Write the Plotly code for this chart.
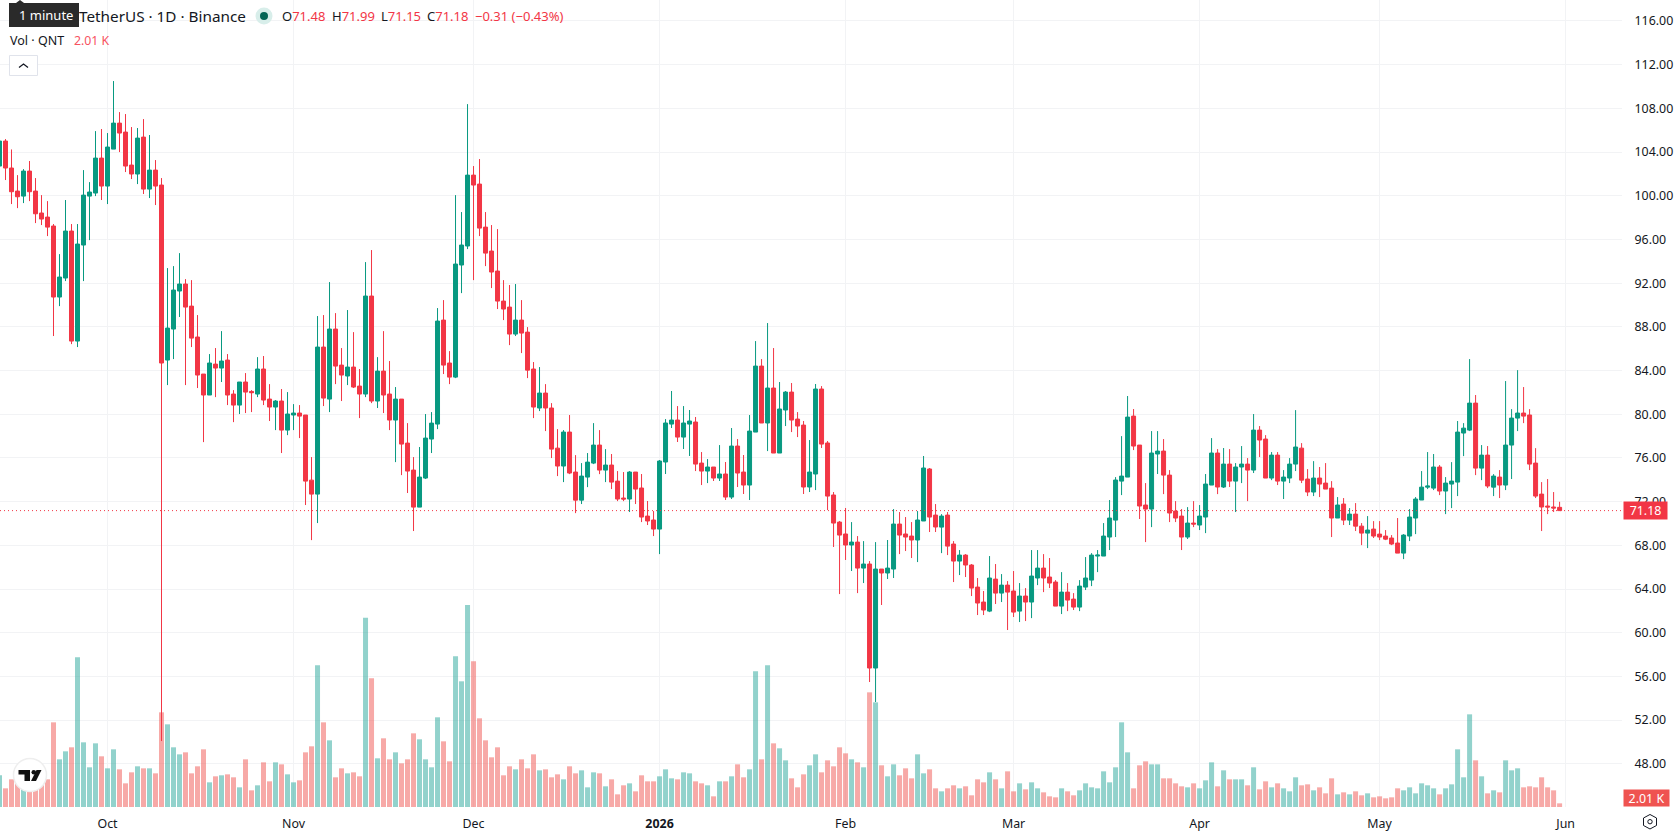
import pandas as pd
import plotly.graph_objects as go

# Daily QNT/USDT candles, 13 Sep 2025 to 31 May 2026
start_date = "2025-09-13"

opens = [
    102.72,105.01,102.54,100.43,99.97,102.26,100.43,98.42,98.05,97.23,
    90.73,92.47,96.77,86.70,95.49,99.97,100.25,103.45,100.89,104.27,
    106.65,105.83,102.81,101.99,105.37,100.61,102.35,100.98,84.96,87.80,
    91.28,91.92,89.90,87.07,83.68,81.76,84.59,84.23,84.96,81.85,
    80.84,82.95,82.09,81.85,84.14,81.39,80.66,81.21,78.55,79.93,
    80.11,79.93,73.97,72.69,86.15,81.39,87.80,84.50,83.50,84.32,
    82.58,81.85,90.82,81.21,83.95,81.85,79.47,81.39,77.36,74.89,
    71.50,74.16,77.73,79.10,88.62,84.69,83.40,93.66,95.40,101.89,
    101.07,97.13,94.94,93.11,90.36,89.81,87.34,88.62,87.52,84.14,
    80.57,81.94,80.57,76.90,75.26,78.37,74.71,72.14,74.25,75.53,
    77.18,74.89,75.35,73.88,72.33,72.24,74.71,73.25,70.68,70.32,
    69.49,75.63,79.10,79.47,77.91,79.10,79.29,75.53,74.80,75.17,
    74.16,74.53,72.42,77.09,74.71,73.52,78.37,84.41,79.20,82.40,
    76.45,80.39,82.03,79.56,79.01,73.34,74.53,82.31,77.37,72.61,
    70.13,69.04,68.03,68.30,65.92,66.29,56.77,65.83,65.47,65.83,
    69.95,69.04,68.85,68.49,70.23,74.99,70.77,69.67,70.77,68.12,
    66.56,67.11,66.20,64.18,62.81,61.98,64.91,63.63,64.36,63.82,
    61.98,63.36,62.81,65.01,65.92,65.10,64.64,62.44,63.72,63.08,
    62.35,64.18,64.82,67.02,67.02,68.76,70.31,73.88,74.25,79.83,
    77.18,71.69,71.32,76.36,76.63,74.43,71.14,70.68,68.76,70.04,
    69.86,70.59,73.52,76.45,73.34,75.44,73.88,75.17,75.44,74.89,
    78.55,77.73,74.16,76.26,73.88,74.16,75.44,76.90,74.07,72.88,
    74.16,73.70,73.24,70.50,71.78,70.31,70.86,69.76,69.12,69.49,
    69.03,68.85,68.67,68.21,67.29,68.85,70.50,72.15,73.33,73.24,
    75.17,72.97,73.61,73.79,78.28,78.55,81.02,75.07,76.26,73.33,
    74.25,73.52,77.18,79.65,80.11,79.93,75.53,72.69,71.60,71.51,
    71.48,
]
closes = [
    105.01,102.54,100.37,99.91,102.26,100.37,98.35,97.87,97.13,90.73,
    92.56,96.77,86.70,95.58,100.06,100.34,103.45,100.89,104.46,106.65,
    105.74,102.72,101.99,105.28,100.61,102.35,100.89,84.69,87.89,91.37,
    91.92,89.81,86.97,83.59,81.76,84.69,84.23,84.87,81.76,80.84,
    82.95,82.03,81.97,84.14,81.30,80.66,81.21,78.55,80.02,80.11,
    79.83,73.88,72.69,86.15,81.48,87.80,84.41,83.59,84.32,82.49,
    81.85,90.82,81.21,83.95,81.76,79.47,81.39,77.27,74.80,71.50,
    74.25,77.82,79.19,88.53,84.50,83.40,93.75,95.49,101.89,100.98,
    97.04,94.75,93.02,90.36,89.63,87.34,88.62,87.43,84.04,80.66,
    81.94,80.57,76.81,75.26,78.37,74.62,72.14,74.34,75.62,77.18,
    74.89,75.35,73.79,72.24,72.24,74.71,73.15,70.59,70.23,69.49,
    75.72,79.20,79.47,77.91,79.20,79.38,75.44,74.80,75.17,74.16,
    74.53,72.42,77.09,74.62,73.52,78.46,84.41,79.20,82.40,76.45,
    80.48,82.03,79.47,78.92,73.34,74.71,82.31,77.27,72.51,70.04,
    68.94,68.03,68.30,65.92,66.29,56.77,65.83,65.47,65.92,69.95,
    68.94,68.76,68.49,70.32,75.08,70.59,69.68,70.68,67.93,66.56,
    67.11,66.20,64.09,62.72,62.08,65.01,63.63,64.36,63.72,61.89,
    63.36,62.81,65.19,65.92,65.01,64.55,62.44,63.72,62.99,62.35,
    64.27,65.01,67.11,67.11,68.85,70.50,73.98,74.34,79.74,77.09,
    71.60,71.32,76.45,76.63,74.43,70.96,70.50,68.76,70.04,69.95,
    70.68,73.61,76.45,73.34,75.44,73.88,75.17,75.44,74.89,78.55,
    77.64,74.16,76.26,73.88,74.25,75.44,77.00,73.97,72.88,74.16,
    73.61,73.15,70.50,71.69,70.31,70.86,69.76,69.12,69.40,68.85,
    68.76,68.57,68.12,67.29,68.94,70.59,72.24,73.33,73.43,75.17,
    72.97,73.70,73.88,78.37,78.73,81.02,75.07,76.26,73.43,74.34,
    73.52,77.18,79.65,80.11,79.83,75.44,72.51,71.51,71.51,71.42,
    71.18,
]
highs = [
    106.00,105.19,104.24,101.89,102.44,103.18,101.62,100.06,99.51,97.41,
    94.66,99.61,97.41,97.41,102.35,101.25,105.92,106.11,105.74,110.50,
    107.66,107.48,106.29,106.20,107.02,105.56,103.27,101.62,93.38,93.56,
    94.75,92.37,92.28,89.08,83.68,85.51,86.06,87.61,85.51,82.21,
    82.95,83.77,82.21,85.23,85.33,82.76,81.30,82.31,82.03,80.93,
    80.84,79.93,76.08,88.99,89.08,92.10,89.26,86.06,89.54,87.52,
    84.14,93.93,95.03,85.23,87.61,84.87,82.49,81.39,79.19,76.08,
    77.00,80.02,80.20,89.72,90.45,85.78,100.06,98.51,108.39,102.72,
    103.36,98.51,97.32,96.95,92.28,91.83,91.92,90.45,87.98,84.78,
    84.32,82.76,81.02,78.64,78.55,79.93,76.26,75.53,76.45,79.19,
    78.55,76.81,76.36,74.80,74.71,74.80,74.71,74.53,72.06,71.14,
    75.81,79.56,82.13,80.75,80.75,80.39,79.75,76.54,75.90,75.17,
    77.18,75.63,78.74,77.73,76.27,79.93,86.70,85.05,88.35,86.06,
    82.95,82.13,82.86,80.20,79.38,77.64,82.77,82.58,77.55,72.88,
    70.23,71.42,70.13,68.85,68.39,66.56,68.30,65.83,68.49,71.32,
    71.05,70.59,70.13,71.14,76.18,75.08,71.78,70.86,71.05,68.39,
    67.57,67.20,66.29,65.01,63.82,67.02,66.29,65.37,64.73,65.65,
    64.55,64.09,67.57,67.57,67.20,66.84,64.82,65.55,64.55,63.63,
    64.82,66.93,67.29,67.57,70.04,72.15,74.25,78.00,81.67,80.48,
    77.18,73.70,78.46,78.46,77.73,74.89,72.05,71.32,71.50,72.05,
    71.69,74.53,77.82,76.81,76.91,76.81,75.53,77.09,75.99,80.02,
    78.92,78.09,76.54,76.54,74.89,75.99,80.38,77.36,74.98,75.71,
    75.17,75.53,73.88,72.42,72.33,71.41,71.87,70.04,70.68,70.22,
    70.22,69.40,68.94,70.50,69.03,71.32,72.42,74.80,76.54,76.36,
    75.35,74.25,75.62,79.38,79.19,85.05,81.76,77.18,77.09,74.52,
    74.89,83.04,80.47,84.04,82.49,80.47,76.90,73.79,74.07,72.88,
    71.99,
]
lows = [
    102.00,101.44,99.24,98.87,99.33,99.51,97.50,97.32,96.31,87.16,
    89.90,92.19,86.42,86.15,92.19,95.94,99.97,99.61,99.24,104.27,
    104.00,102.17,101.53,101.07,100.16,99.79,99.15,50.09,82.67,85.05,
    88.90,82.67,86.15,82.40,77.45,81.76,81.57,82.95,80.84,79.28,
    80.02,80.11,80.20,81.57,80.84,79.38,78.55,76.45,78.09,78.55,
    77.82,71.69,68.48,70.04,80.75,80.20,82.76,81.21,82.67,82.40,
    79.65,81.57,81.02,80.57,80.11,78.55,75.62,74.43,72.79,69.31,
    71.50,74.07,76.45,78.64,83.68,82.76,83.31,91.09,95.12,92.28,
    96.31,93.56,91.55,89.63,88.62,86.33,87.16,85.60,83.31,79.65,
    80.29,78.46,75.99,74.34,73.79,74.52,70.95,71.78,73.33,75.44,
    74.52,73.79,73.15,72.05,72.05,71.05,71.78,70.13,69.86,68.85,
    67.20,74.53,78.74,77.46,76.82,76.18,74.80,73.52,73.70,73.89,
    73.89,72.15,72.24,73.34,72.70,72.15,78.37,79.20,76.63,76.45,
    76.45,78.92,78.37,77.91,72.70,72.88,73.06,76.91,71.23,67.85,
    63.54,66.66,65.65,63.63,64.55,55.49,53.66,62.54,64.92,65.01,
    67.20,67.48,66.84,66.47,70.23,69.22,69.22,67.29,67.11,64.64,
    65.28,65.10,63.36,61.62,61.62,61.89,62.63,62.81,60.25,61.44,
    60.98,61.07,61.34,64.36,63.72,64.09,62.44,61.71,61.98,62.08,
    61.98,63.91,64.27,65.55,67.02,67.57,68.76,72.60,74.25,76.72,
    70.41,68.30,69.67,74.53,72.69,70.13,70.13,67.57,68.58,69.67,
    69.40,69.12,73.52,72.69,73.25,73.34,71.05,73.70,72.05,74.62,
    76.08,74.16,73.97,73.52,72.24,73.70,74.80,73.70,72.51,72.51,
    72.42,73.15,68.76,70.50,69.86,69.86,69.31,68.02,67.75,68.67,
    68.48,68.48,68.02,67.29,66.74,68.39,69.03,72.15,73.15,73.06,
    72.60,70.86,71.41,72.51,76.17,78.46,74.43,73.97,73.24,72.51,
    72.33,73.06,74.07,78.46,79.19,74.89,72.33,69.31,70.86,71.05,
    71.15,
]
# Daily traded volume, thousands of QNT
volumes = [
    17.39,10.25,15.19,15.56,10.07,10.98,10.98,14.64,15.19,46.48,
    26.17,30.56,32.76,82.17,35.50,21.78,34.95,27.82,21.23,31.66,
    20.68,12.99,19.03,22.33,21.23,21.23,18.48,51.97,45.38,32.76,
    28.91,30.01,18.48,22.33,31.66,13.54,16.84,17.39,17.93,16.29,
    10.80,26.17,9.15,11.90,24.52,14.09,24.52,23.42,17.93,13.54,
    14.64,30.01,33.31,77.78,46.48,36.60,16.29,21.23,18.48,19.03,
    16.84,103.94,70.64,26.72,37.70,26.17,30.01,23.97,26.17,40.44,
    37.15,26.17,21.78,49.23,36.05,25.07,82.72,68.99,110.90,79.97,
    48.68,36.60,27.27,32.76,17.39,22.33,20.68,26.17,21.23,28.91,
    20.13,20.68,16.29,17.93,15.19,22.33,18.48,20.13,10.80,19.03,
    18.48,11.35,15.19,6.95,11.90,12.99,8.60,17.39,14.09,14.09,
    16.84,20.68,15.74,15.19,19.03,18.48,14.09,12.99,11.90,5.86,
    14.09,14.09,16.84,23.42,16.29,20.68,74.48,26.17,77.78,34.95,
    32.21,25.62,15.74,10.80,17.93,22.88,28.91,19.03,25.62,22.33,
    32.76,29.46,26.17,24.52,21.78,62.95,57.46,22.88,16.84,23.42,
    17.39,21.23,15.74,28.91,18.48,20.68,10.25,8.60,10.25,11.90,
    10.25,11.35,6.41,15.19,13.54,19.03,15.19,10.25,19.58,8.60,
    12.99,9.70,13.54,10.25,8.05,5.86,5.31,10.25,8.60,6.41,
    9.15,12.99,10.80,10.25,19.58,13.54,21.78,46.48,30.01,10.25,
    22.88,25.07,23.42,23.42,15.74,15.74,12.99,11.35,10.80,12.99,
    10.25,14.64,24.52,11.35,20.13,15.19,15.19,15.19,11.90,21.78,
    9.70,14.09,10.80,12.99,10.25,8.60,16.29,11.90,12.44,9.15,
    10.80,7.50,15.74,6.95,8.05,6.95,8.60,6.41,7.50,5.31,
    5.86,4.76,5.31,10.25,9.15,10.80,7.50,12.99,11.90,10.25,
    6.95,10.25,12.44,31.66,16.29,50.87,25.62,16.84,7.50,9.15,
    8.05,25.62,20.13,21.23,10.80,11.35,10.80,16.29,10.80,9.15,
    2.01,
]

month_ticks = ["2025-10-01","2025-11-01","2025-12-01","2026-01-01","2026-02-01",
               "2026-03-01","2026-04-01","2026-05-01","2026-06-01"]
month_labels = ["Oct","Nov","Dec","<b>2026</b>","Feb","Mar","Apr","May","Jun"]
price_ticks = [48,52,56,60,64,68,72,76,80,84,88,92,96,100,104,108,112,116]
price_labels = [f"{p:.2f}" for p in price_ticks]
last_price = 71.18
last_volume = 2.01

dates = pd.date_range(start_date, periods=len(closes), freq="D")

UP, DOWN = "#089981", "#f23645"
VOL_UP, VOL_DOWN = "rgba(38,166,154,0.5)", "rgba(239,83,80,0.5)"
GRID = "#f2f3f5"
INK = "#131722"
FONT = "Noto Sans"

# Plot rectangle in page pixels, used to place the header furniture
W, H = 1678, 835
PW, PH = 1622, 807

def px(x):
    return x / PW

def py(y):
    return 1 - y / PH

fig = go.Figure()

# Volume sits on the base axis so that the candles overlay it
fig.add_trace(go.Bar(
    x=dates, y=volumes, yaxis="y",
    marker=dict(color=[VOL_UP if c >= o else VOL_DOWN for o, c in zip(opens, closes)], line_width=0),
    hoverinfo="skip", showlegend=False,
))
fig.add_trace(go.Candlestick(
    x=dates, open=opens, high=highs, low=lows, close=closes, yaxis="y2",
    increasing=dict(line=dict(color=UP, width=1), fillcolor=UP),
    decreasing=dict(line=dict(color=DOWN, width=1), fillcolor=DOWN),
    whiskerwidth=0, showlegend=False,
))

def text(x, y, s, color=INK, size=13, anchor="left", **kw):
    fig.add_annotation(xref="paper", yref="paper", x=px(x), y=py(y), text=s, showarrow=False,
                       xanchor=anchor, yanchor="middle", align="left",
                       font=dict(family=FONT, size=size, color=color), borderpad=0, **kw)

def shape(kind, **kw):
    fig.add_shape(type=kind, xref="paper", yref="paper", **kw)

def box(x0, y0, x1, y1, **kw):
    shape("rect", x0=px(x0), x1=px(x1), y0=py(y0), y1=py(y1), **kw)

def ring(cx, cy, r, **kw):
    shape("circle", x0=px(cx - r), x1=px(cx + r), y0=py(cy - r), y1=py(cy + r), **kw)

def poly(points, closed=True, **kw):
    d = "M" + " L".join(f"{px(x):.5f},{py(y):.5f}" for x, y in points) + (" Z" if closed else "")
    shape("path", path=d, **kw)

# Last price line and its tag on the scale
fig.add_shape(type="line", xref="paper", yref="y2", x0=0, x1=1, y0=last_price, y1=last_price,
              line=dict(color=DOWN, width=1, dash="1px,3px"))
fig.add_annotation(xref="paper", yref="y2", x=px(1623), y=last_price, text=f"{last_price:.2f}",
                   showarrow=False, xanchor="left", yanchor="middle", width=43, height=17,
                   bgcolor=DOWN, font=dict(family=FONT, size=12.4, color="white"), borderpad=0)
fig.add_annotation(xref="paper", yref="y", x=px(1623), y=0, text=f"{last_volume:.2f} K",
                   showarrow=False, xanchor="left", yanchor="bottom", width=45, height=16,
                   bgcolor="#ef5350", font=dict(family=FONT, size=12.4, color="white"), borderpad=0)

# Legend header
text(78, 16, "TetherUS · 1D · Binance", size=15.3)
ring(264, 16, 8.5, fillcolor="#d8eeea", line_width=0)
ring(264, 16, 4, fillcolor="#056656", line_width=0)
ohlc_entries = [(281, "O", "71.48"), (331, "H", "71.99"), (380, "L", "71.15"), (426, "C", "71.18")]
for x0, letter, value in ohlc_entries:
    text(x0, 16, f'<span style="color:{INK}">{letter}</span>{value}', color=DOWN, size=13)
text(473.5, 16, "−0.31 (−0.43%)", color=DOWN, size=13)
text(9, 40.5, "Vol · QNT", size=12.5)
text(72.5, 40.5, "2.01 K", color="#f7525f", size=12.3)

# "1 minute" tooltip above the title
poly([(16, 3), (20, 0), (24, 3)], fillcolor="#2a2a2a", line_width=0)
box(9, 3, 79, 27, fillcolor="#2a2a2a", line_width=0)
text(18, 15.5, "1 minute", color="#ffffff", size=13)

# Collapse button
box(9.5, 55.5, 37.5, 75.5, fillcolor="white", line=dict(color="#e0e3eb", width=1))
poly([(19, 67.5), (23.5, 64), (28, 67.5)], closed=False, line=dict(color=INK, width=1.3))

# Watermark logo on the volume pane
ring(30, 775, 16.5, fillcolor="white", line=dict(color="#eeeeee", width=1.5))
poly([(18.5, 770), (30, 770), (30, 781), (24.5, 781), (24.5, 774.5), (18.5, 774.5)],
     fillcolor="#111111", line_width=0)
ring(33.8, 772.2, 2.3, fillcolor="#111111", line_width=0)
poly([(36.5, 770), (41.5, 770), (36, 781), (31, 781)], fillcolor="#111111", line_width=0)

# Settings icon in the scale corner
hex_points = [(1650, 814.5), (1656.5, 818), (1656.5, 825.5), (1650, 829), (1643.5, 825.5), (1643.5, 818)]
poly(hex_points, fillcolor="white", line=dict(color=INK, width=1))
ring(1650, 821.7, 2.2, fillcolor="white", line=dict(color=INK, width=1))

fig.update_layout(
    width=W, height=H,
    margin=dict(l=0, r=W - PW, t=0, b=H - PH),
    paper_bgcolor="white", plot_bgcolor="white",
    bargap=1 / 6, boxgap=0, boxgroupgap=1 / 3, hovermode=False, showlegend=False,
    font=dict(family=FONT, color=INK, size=12),
    xaxis=dict(
        type="date",
        range=["2025-09-13 02:00", "2026-06-10 09:36"],
        tickmode="array", tickvals=month_ticks, ticktext=month_labels,
        showgrid=True, gridcolor=GRID, gridwidth=1,
        showline=False, zeroline=False,
        ticks="outside", ticklen=5, tickcolor="rgba(0,0,0,0)",
        rangeslider=dict(visible=False),
        tickfont=dict(family=FONT, size=12.4, color=INK),
    ),
    yaxis=dict(
        range=[0, 443], showgrid=False, showticklabels=False, zeroline=False, showline=False, ticks="",
    ),
    yaxis2=dict(
        overlaying="y", side="right", anchor="x",
        range=[44.05, 117.92],
        tickmode="array", tickvals=price_ticks, ticktext=price_labels,
        showgrid=True, gridcolor=GRID, gridwidth=1,
        showline=False, zeroline=False,
        ticks="outside", ticklen=9, tickcolor="rgba(0,0,0,0)",
        tickfont=dict(family=FONT, size=12.4, color=INK),
    ),
)

fig.write_html("out.html")
